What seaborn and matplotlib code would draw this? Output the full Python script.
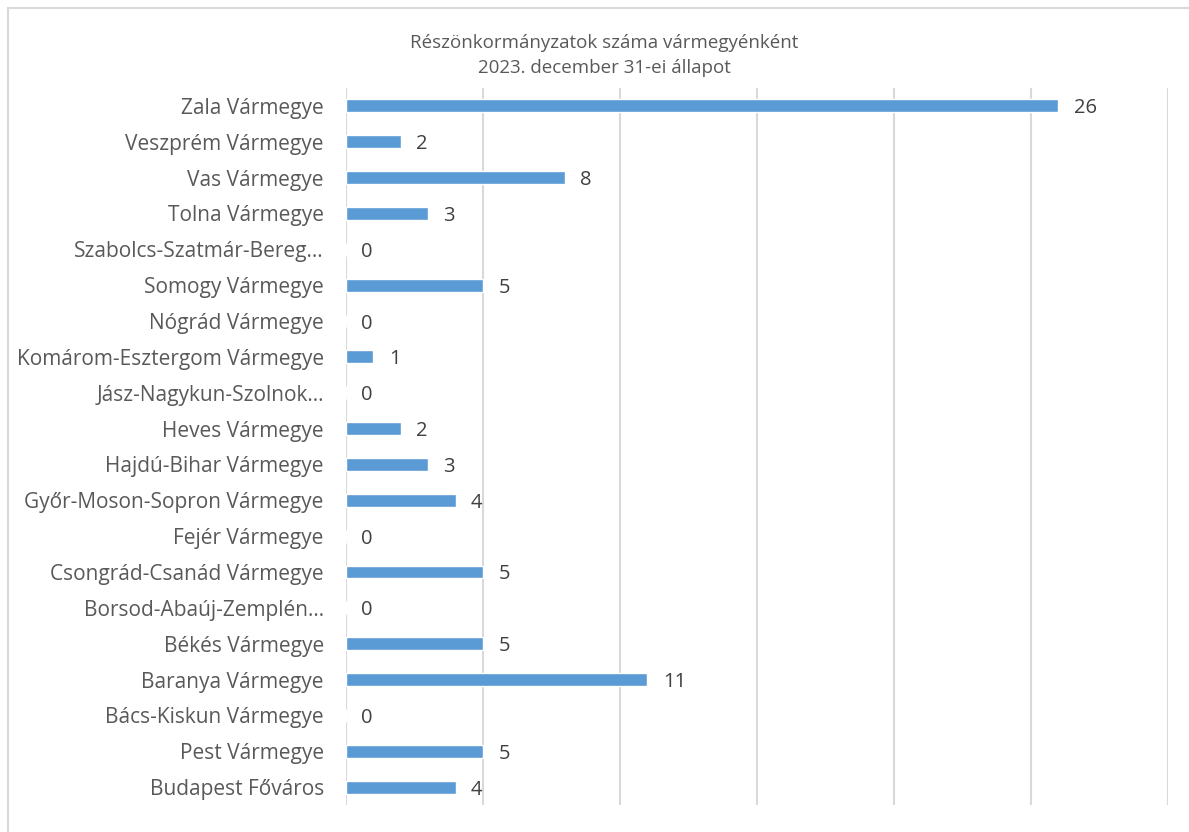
import matplotlib
matplotlib.use("Agg")
import matplotlib.pyplot as plt
import seaborn as sns
import pandas as pd
from matplotlib.patches import Rectangle

categories = [
    "Zala Vármegye", "Veszprém Vármegye", "Vas Vármegye", "Tolna Vármegye",
    "Szabolcs-Szatmár-Bereg…", "Somogy Vármegye", "Nógrád Vármegye",
    "Komárom-Esztergom Vármegye", "Jász-Nagykun-Szolnok…", "Heves Vármegye",
    "Hajdú-Bihar Vármegye", "Győr-Moson-Sopron Vármegye", "Fejér Vármegye",
    "Csongrád-Csanád Vármegye", "Borsod-Abaúj-Zemplén…", "Békés Vármegye",
    "Baranya Vármegye", "Bács-Kiskun Vármegye", "Pest Vármegye", "Budapest Főváros",
]
values = [26, 2, 8, 3, 0, 5, 0, 1, 0, 2, 3, 4, 0, 5, 0, 5, 11, 0, 5, 4]
title_lines = ["Részönkormányzatok száma vármegyénként", "2023. december 31-ei állapot"]

df = pd.DataFrame({"cat": categories, "val": values})

sns.set_theme(style="white")
plt.rcParams["font.family"] = ["Open Sans", "DejaVu Sans"]

fig = plt.figure(figsize=(11.89, 8.32), dpi=100)
ax = fig.add_axes([346/1189, 1-805/832, (1168-346)/1189, (805-88)/832])

sns.barplot(data=df, x="val", y="cat", orient="h", color="#5B9BD5",
            saturation=1, width=0.36, ax=ax)

ax.set_xlim(0, 30)
ax.set_xticks(range(0, 31, 5))
ax.set_xticklabels([])
ax.tick_params(axis="x", length=0)
ax.tick_params(axis="y", length=0, pad=16, labelsize=15, labelcolor="#595959")
ax.xaxis.grid(True, color="#d9d9d9", linewidth=1.5)
ax.yaxis.grid(False)
ax.set_axisbelow(True)
for s in ax.spines.values():
    s.set_visible(False)
ax.set_xlabel("")
ax.set_ylabel("")

for i, v in enumerate(values):
    ax.annotate(str(v), xy=(v, i), xytext=(11, 0), textcoords="offset points",
                ha="left", va="center_baseline", fontsize=14.5, color="#404040")

fig.text(604/1189, 1-43/832, title_lines[0], ha="center", va="center",
         fontsize=13.5, color="#595959")
fig.text(604/1189, 1-68/832, title_lines[1], ha="center", va="center",
         fontsize=13.5, color="#595959")

fig.patches.append(Rectangle((8/1189, -0.1), 1.2, 1-8/832+0.1,
                             transform=fig.transFigure, fill=False,
                             edgecolor="#d9d9d9", linewidth=1.5))

fig.savefig("out.png", dpi=100, facecolor="white")
